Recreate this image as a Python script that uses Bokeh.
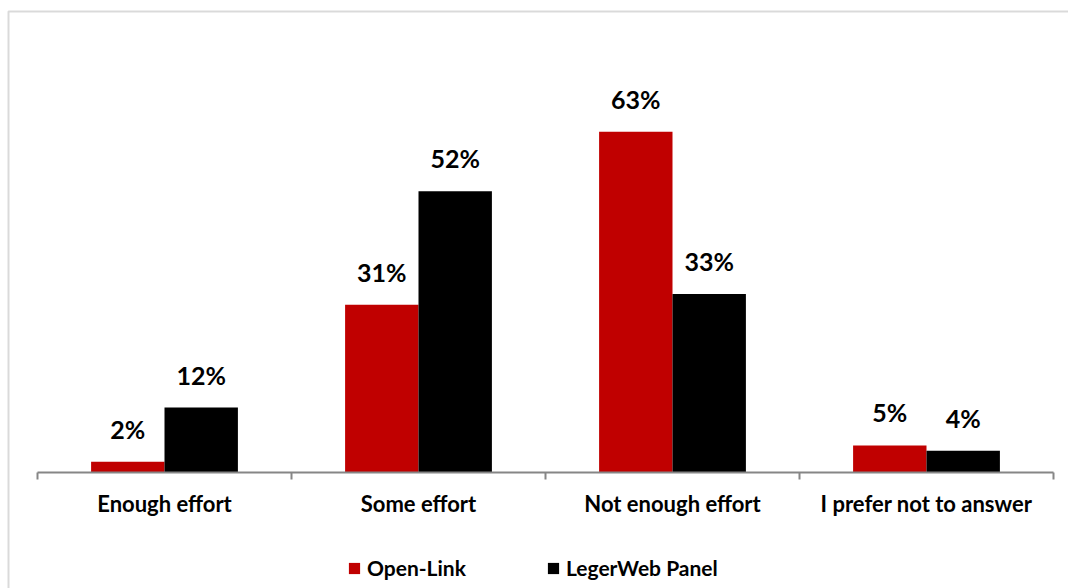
from bokeh.plotting import figure
from bokeh.models import (ColumnDataSource, FixedTicker, BoxAnnotation, Legend, LegendItem, Range1d)
from bokeh.core.properties import value
from bokeh.embed import file_html
from bokeh.resources import INLINE

categories = ["Enough effort", "Some effort", "Not enough effort", "I prefer not to answer"]
open_link = [2, 31, 63, 5]
legerweb = [12, 52, 33, 4]
series_names = ["Open-Link", "LegerWeb Panel"]
colors = ["#C00000", "#000000"]

FONT = "Lato"
n = len(categories)
centers = [i + 0.5 for i in range(n)]
offset = 0.1445
bw = 0.289

# frame covers the canvas from (6, 9) to the bottom-right corner
FL, FT = 6, 9
pxu = 254.0   # px per category
pyu = 5.41    # px per percent
x0, y0 = 37, 472
xs = -(x0 - FL) / pxu
xe = n + (1068 - (x0 + n * pxu)) / pxu
ys = -(588 - y0) / pyu
ye = (y0 - FT) / pyu

p = figure(width=1068, height=588, output_backend="svg", toolbar_location=None,
           x_range=Range1d(xs, xe), y_range=Range1d(ys, ye),
           min_border_left=FL, min_border_right=0, min_border_top=FT, min_border_bottom=0)
p.outline_line_color = None
p.grid.grid_line_color = None
p.yaxis.visible = False

renderers = []
for k, (vals, c, sgn) in enumerate([(open_link, colors[0], -1), (legerweb, colors[1], 1)]):
    src = ColumnDataSource(dict(x=[cx + sgn * offset for cx in centers], top=vals,
                                lbl=[f"{v}%" for v in vals]))
    r = p.vbar(x="x", top="top", width=bw, bottom=0, source=src, fill_color=c, line_color=None)
    renderers.append(r)
    p.text(x="x", y="top", text="lbl", source=src, text_align="center", text_baseline="bottom",
           y_offset=-18, text_font=value(FONT), text_font_style="bold", text_font_size="25px",
           text_color="#000000")

ax = p.xaxis[0]
ax.fixed_location = 0
ax.bounds = (0, n)
ax.ticker = FixedTicker(ticks=centers, minor_ticks=list(range(n + 1)))
ax.major_label_overrides = {c: lab for c, lab in zip(centers, categories)}
ax.major_tick_out = 0
ax.major_tick_in = 0
ax.minor_tick_out = 7
ax.minor_tick_in = 0
ax.minor_tick_line_color = "#868686"
ax.minor_tick_line_width = 2
ax.axis_line_color = "#868686"
ax.axis_line_width = 2
ax.major_label_standoff = 10
ax.major_label_text_font = FONT
ax.major_label_text_font_style = "bold"
ax.major_label_text_font_size = "22px"
ax.major_label_text_color = "#000000"

legend = Legend(items=[LegendItem(label=series_names[i], renderers=[renderers[i]]) for i in range(2)],
                orientation="horizontal", location=(341, 8),
                label_text_font=FONT, label_text_font_style="bold", label_text_font_size="21px",
                label_text_color="#000000",
                glyph_width=14, glyph_height=14, label_standoff=6, spacing=80,
                border_line_color=None, background_fill_alpha=0, margin=0, padding=0)
p.add_layout(legend)

border = BoxAnnotation(left=8, right=1100, top=11, bottom=620,
                       left_units="canvas", right_units="canvas", top_units="canvas", bottom_units="canvas",
                       fill_alpha=0, line_color="#868686", line_width=2)
p.add_layout(border)

open("out.html", "w").write(file_html(p, INLINE))
